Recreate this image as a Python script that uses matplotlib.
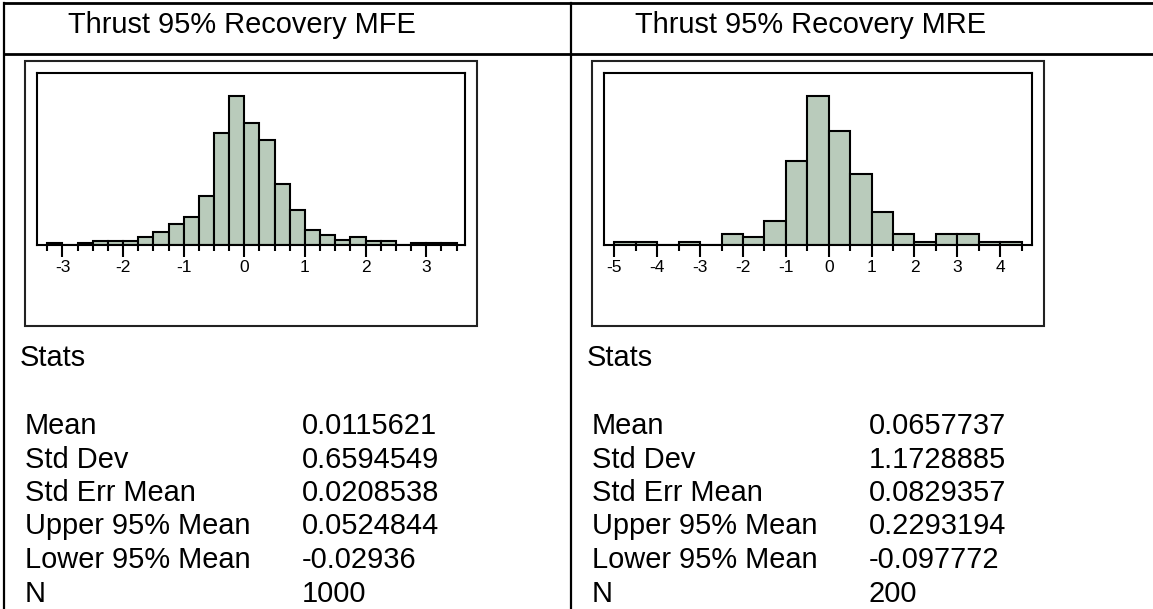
import numpy as np
import matplotlib
matplotlib.use("Agg")
import matplotlib.pyplot as plt
from matplotlib.patches import Rectangle
from matplotlib.lines import Line2D

plt.rcParams['font.family'] = ['Liberation Sans', 'DejaVu Sans']

# --- data ---
mfe_title = "Thrust 95% Recovery MFE"
mfe_first_edge = -3.25
mfe_bin_width = 0.25
mfe_counts = [2, 0, 2, 5, 5, 5, 11, 17, 27, 36, 64, 145, 194, 159, 136,
              79, 46, 20, 13, 7, 11, 5, 5, 0, 2, 2, 2]
mfe_ticks = [-3, -2, -1, 0, 1, 2, 3]

mre_title = "Thrust 95% Recovery MRE"
mre_first_edge = -5.0
mre_bin_width = 0.5
mre_counts = [1, 1, 0, 1, 0, 4, 3, 9, 31, 55, 42, 26, 12, 4, 1, 4, 4, 1, 1]
mre_ticks = [-5, -4, -3, -2, -1, 0, 1, 2, 3, 4]

stat_names = ["Mean", "Std Dev", "Std Err Mean", "Upper 95% Mean",
              "Lower 95% Mean", "N"]
mfe_stats = ["0.0115621", "0.6594549", "0.0208538", "0.0524844",
             "-0.02936", "1000"]
mre_stats = ["0.0657737", "1.1728885", "0.0829357", "0.2293194",
             "-0.097772", "200"]

W, H = 1153, 609
fig = plt.figure(figsize=(W / 100, H / 100), dpi=100)

def fx(x):
    return x / W

def fy(y):
    return 1 - y / H

bar_color = "#b9cbbb"
big = 20.9  # pt, text in the table

# table lines
for (x0, y0, x1, y1, lw) in [(4, 3, W, 3, 2.0), (4, 54, W, 54, 2.0),
                             (4, 3, 4, H, 1.6), (571, 3, 571, H, 1.6)]:
    fig.add_artist(Line2D([fx(x0), fx(x1)], [fy(y0), fy(y1)], color="black",
                          lw=lw, transform=fig.transFigure))

def panel(x_off, title, first_edge, bw, counts, ticks, xlim, stats):
    # title row
    fig.text(fx(x_off + 64), fy(33), title, fontsize=big, va="baseline")

    # outer frame of the histogram
    fig.add_artist(Rectangle((fx(x_off + 21), fy(326)), fx(452), 265 / H,
                             fill=False, ec="#222222", lw=1.5,
                             transform=fig.transFigure))

    # histogram
    ax = fig.add_axes([fx(x_off + 33), fy(245), fx(428), 172 / H])
    edges = first_edge + bw * np.arange(len(counts) + 1)
    ax.bar(edges[:-1], counts, width=bw, align="edge", color=bar_color,
           edgecolor="black", linewidth=1.5)
    ax.set_xlim(xlim)
    ax.set_ylim(0, max(counts) * 1.152)
    ax.set_yticks([])
    ax.set_xticks(ticks)
    ax.set_xticklabels([str(t) for t in ticks])
    minor = [e for e in edges if abs(e - round(e)) > 1e-9]
    ax.set_xticks(minor, minor=True)
    ax.tick_params(axis="x", which="major", length=8.6, width=1.5,
                   labelsize=12.5, pad=2.5)
    ax.tick_params(axis="x", which="minor", length=4.5, width=1.5)
    for s in ax.spines.values():
        s.set_linewidth(1.5)
        s.set_color("black")

    # stats block
    fig.text(fx(x_off + 16), fy(366.5), "Stats", fontsize=big, va="baseline")
    for i, (name, val) in enumerate(zip(stat_names, stats)):
        yb = 434 + i * 33.5
        fig.text(fx(x_off + 21), fy(yb), name, fontsize=big, va="baseline")
        fig.text(fx(x_off + 298), fy(yb), val, fontsize=big, va="baseline")

panel(4, mfe_title, mfe_first_edge, mfe_bin_width, mfe_counts, mfe_ticks,
      (-3.42, 3.64), mfe_stats)
panel(571, mre_title, mre_first_edge, mre_bin_width, mre_counts, mre_ticks,
      (-5.24, 4.74), mre_stats)

fig.savefig("out.png", dpi=100)
